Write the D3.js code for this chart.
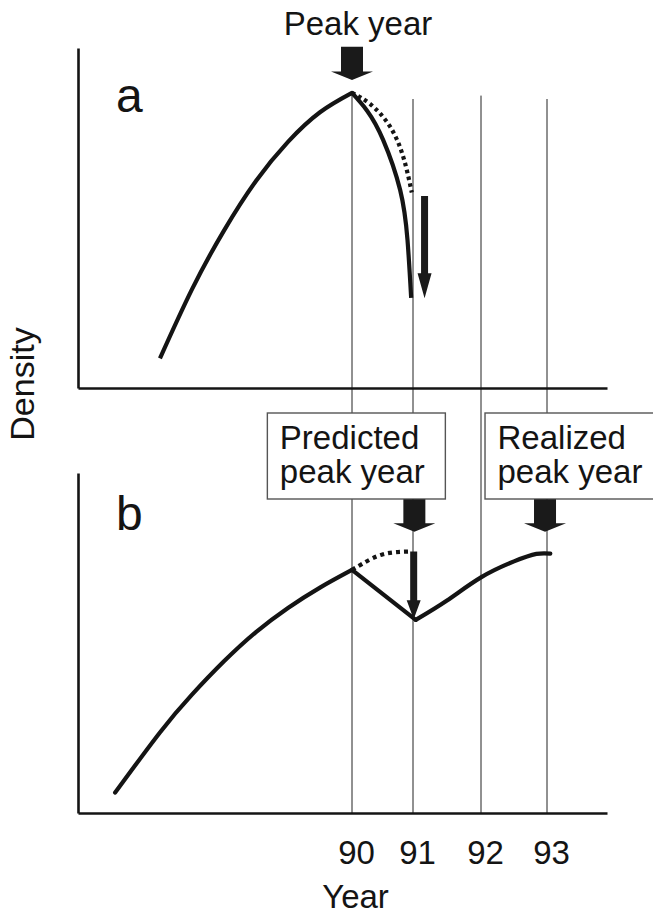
<!DOCTYPE html>
<html>
<head>
<meta charset="utf-8">
<script src="https://cdn.jsdelivr.net/npm/d3@7.9.0/dist/d3.min.js"></script>
<style>
  body { margin: 0; background: #fff; }
  svg text { font-family: "Liberation Sans", Arial, sans-serif; fill: #141414; }
</style>
</head>
<body>
<svg id="chart" width="653" height="915"></svg>
<script>
// ---- data (year, density) ----
const years = [90, 91, 92, 93];
const tickLabels = ['90', '91', '92', '93'];
const lineTops = [86.5, 85, 86, 85]; // density in panel a where each year line starts

// panel a: sharp fall after the peak
const riseA = [[87.0, 8.7], [87.5, 29], [88, 46.3], [88.5, 60.9], [89, 72.4], [89.5, 81.1], [90, 86.8]];
const fallA = [[90, 86.8], [90.25, 81.5], [90.51, 73], [90.79, 58.2], [90.91, 43.5], [90.97, 26.5]];
const expectedA = [[90, 86.8], [90.3, 83.5], [90.62, 77], [90.84, 68], [90.98, 57.5]];

// panel b: drop then recovery, peak moves to 93
const riseB = [[86.3, 6], [87, 23.7], [87.5, 34.8], [88, 44.6], [88.5, 53.2], [89, 60.3], [89.5, 66.3], [90, 71.5]];
const dropB = [[90, 71.5], [91.04, 56.8]];
const recoverB = [[91.04, 56.8], [91.5, 62.5], [92, 69.3], [92.5, 74], [92.84, 76.2], [93.05, 76.3]];
const expectedB = [[90, 71.5], [90.18, 73.4], [90.51, 76.1], [90.94, 76.9]];

// arrows: [panel, year, from density, to density]
const bigArrows = [['a', 90, 100.4, 90.6], ['b', 91.02, 92.3, 82.7], ['b', 92.97, 92.3, 82.7]];
const thinArrows = [['a', 91.17, 56.5, 26.4], ['b', 91.01, 76.9, 57]];

const boxLabels = [
  { year: 91.02, lines: ['Predicted', 'peak year'] },
  { year: 92.97, lines: ['Realized', 'peak year'] },
];

// ---- layout ----
const svg = d3.select('#chart');
const x = d3.scaleLinear()
  .domain([85.72, 90, 91, 92, 93, 93.91])
  .range([78, 352, 413, 481, 547, 607]);
const yA = d3.scaleLinear().domain([0, 100]).range([388, 48]);
const yB = d3.scaleLinear().domain([0, 100]).range([813, 473]);
const yOf = { a: yA, b: yB };

const ink = '#141414';

// year guide lines, from panel a down to panel b baseline
svg.append('g')
  .selectAll('line')
  .data(years)
  .join('line')
  .attr('x1', (d) => x(d))
  .attr('x2', (d) => x(d))
  .attr('y1', (d, i) => yA(lineTops[i]))
  .attr('y2', yB(0))
  .attr('stroke', '#222')
  .attr('stroke-width', 1);

// axes
const axisA = svg.append('g').attr('transform', `translate(0,${yA(0)})`)
  .call(d3.axisBottom(x).tickValues([]).tickSizeOuter(0));
const axisB = svg.append('g').attr('transform', `translate(0,${yB(0)})`)
  .call(d3.axisBottom(x).tickValues(years).tickFormat((d, i) => tickLabels[i])
    .tickSize(0).tickSizeOuter(0).tickPadding(28));
const axisLA = svg.append('g').attr('transform', `translate(${x.range()[0]},0)`)
  .call(d3.axisLeft(yA).tickValues([]).tickSizeOuter(0));
const axisLB = svg.append('g').attr('transform', `translate(${x.range()[0]},0)`)
  .call(d3.axisLeft(yB).tickValues([]).tickSizeOuter(0));

[axisA, axisB, axisLA, axisLB].forEach((g) => {
  g.select('.domain').attr('stroke', ink).attr('stroke-width', 2.6);
});
axisB.selectAll('text')
  .attr('font-size', 33)
  .attr('font-family', '"Liberation Sans", Arial, sans-serif')
  .attr('fill', ink)
  .attr('dx', 4);

// label boxes in panel b
const boxW = 178, boxH = 86, boxTop = 413;
const boxLeft = (d, i) => (i === 0 ? x(d.year) - 147 : x(d.year) - 60);
const boxes = svg.append('g').selectAll('g').data(boxLabels).join('g');
boxes.append('rect')
  .attr('x', boxLeft)
  .attr('y', boxTop)
  .attr('width', boxW)
  .attr('height', boxH)
  .attr('fill', '#fff')
  .attr('stroke', '#555')
  .attr('stroke-width', 1.4);
boxes.each(function (d, i) {
  const left = boxLeft(d, i) + 12.5;
  d3.select(this).selectAll('text')
    .data(d.lines)
    .join('text')
    .attr('x', left)
    .attr('y', (t, j) => boxTop + 36 + j * 34)
    .attr('font-size', 33)
    .text((t) => t);
});

// curves
const lineFor = (yS, curve) => d3.line().x((d) => x(d[0])).y((d) => yS(d[1])).curve(curve);
const solid = (sel) => sel.attr('fill', 'none').attr('stroke', ink).attr('stroke-width', 4.2)
  .attr('stroke-linecap', 'round').attr('stroke-linejoin', 'round');

// rise and fall joined at the peak into one path
const pathA = lineFor(yA, d3.curveNatural)(riseA) + lineFor(yA, d3.curveNatural)(fallA).replace(/^M/, 'L');
svg.append('path').attr('d', pathA).call(solid).attr('stroke-linecap', 'butt');
svg.append('path')
  .attr('d', lineFor(yA, d3.curveNatural)(expectedA))
  .attr('fill', 'none').attr('stroke', ink).attr('stroke-width', 4.2)
  .attr('stroke-dasharray', '3.5,3.5');

svg.append('path').attr('d', lineFor(yB, d3.curveNatural)(riseB)).call(solid);
svg.append('path').attr('d', lineFor(yB, d3.curveLinear)(dropB)).call(solid);
svg.append('path').attr('d', lineFor(yB, d3.curveNatural)(recoverB)).call(solid);
svg.append('path')
  .attr('d', lineFor(yB, d3.curveNatural)(expectedB))
  .attr('fill', 'none').attr('stroke', ink).attr('stroke-width', 4.2)
  .attr('stroke-dasharray', '4,4');

// arrows
function arrowPath(cx, y0, y1, shaftHalf, headHalf, headLen) {
  const yh = y1 - headLen;
  return `M${cx - shaftHalf},${y0}L${cx + shaftHalf},${y0}L${cx + shaftHalf},${yh}` +
    `L${cx + headHalf},${yh}L${cx},${y1}L${cx - headHalf},${yh}L${cx - shaftHalf},${yh}Z`;
}
svg.append('g').selectAll('path').data(bigArrows).join('path')
  .attr('d', (d) => arrowPath(x(d[1]), yOf[d[0]](d[2]), yOf[d[0]](d[3]), 11, 21, 8.5))
  .attr('fill', '#1a1a1a');
const thinHead = { a: 25, b: 19 };
svg.append('g').selectAll('path').data(thinArrows).join('path')
  .attr('d', (d) => arrowPath(x(d[1]), yOf[d[0]](d[2]), yOf[d[0]](d[3]), 3.5, 7, thinHead[d[0]]))
  .attr('fill', '#1a1a1a');

// texts
svg.append('text').attr('x', 358).attr('y', 35).attr('text-anchor', 'middle')
  .attr('font-size', 33).text('Peak year');
svg.append('text').attr('x', 116).attr('y', 111.5).attr('font-size', 48).text('a');
svg.append('text').attr('x', 116).attr('y', 530).attr('font-size', 48).text('b');
svg.append('text').attr('transform', 'translate(33.5,384) rotate(-90)')
  .attr('text-anchor', 'middle').attr('font-size', 34).text('Density');
svg.append('text').attr('x', 355.5).attr('y', 908).attr('text-anchor', 'middle')
  .attr('font-size', 33).text('Year');
</script>
</body>
</html>
